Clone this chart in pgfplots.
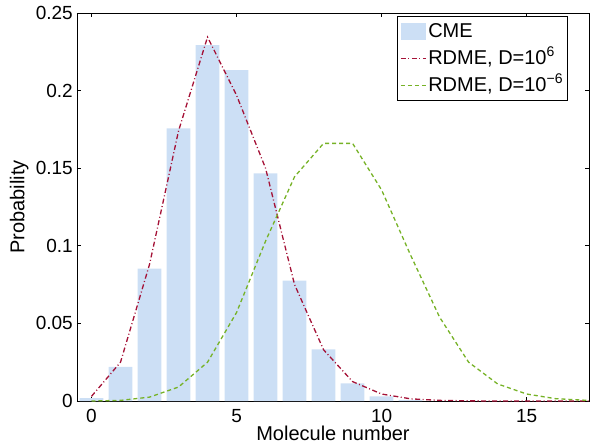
\documentclass[border=0pt]{standalone}
\usepackage{pgfplots}
\pgfplotsset{compat=1.18}
\usepackage{fontspec}
\setmainfont{Liberation Sans}

\definecolor{barblue}{RGB}{204,223,245}
\definecolor{rdmered}{RGB}{165,18,55}
\definecolor{rdmegreen}{RGB}{118,178,38}

\newcommand{\bigfont}{\fontsize{20}{24}\selectfont}
\newcommand{\tickfont}{\fontsize{19}{22}\selectfont}

\tikzset{
  redline/.style={rdmered, line width=1.3pt, dash pattern=on 5pt off 2.5pt on 1pt off 2.5pt},
  greenline/.style={rdmegreen, line width=1.3pt, dash pattern=on 4pt off 3pt},
}
\pgfplotsset{
  redleg/.style={legend image code/.code={\draw[redline, line width=1.6pt] (0pt,0pt) -- (25pt,0pt);}},
  greenleg/.style={legend image code/.code={\draw[greenline, line width=1.6pt] (0pt,0pt) -- (25pt,0pt);}},
  barleg/.style={legend image code/.code={\fill[barblue] (0pt,-8pt) rectangle (25pt,9pt);}},
}

\begin{document}
\begin{tikzpicture}
\path[use as bounding box] (-77pt,-44pt) rectangle (513pt,401pt);
\begin{axis}[
  at={(0pt,0pt)}, anchor=south west,
  scale only axis,
  width=512pt, height=388pt,
  xmin=-0.5, xmax=17.15,
  ymin=0, ymax=0.25,
  xtick={0,5,10,15},
  xticklabels={0,5,10,15},
  ytick={0,0.05,0.1,0.15,0.2,0.25},
  yticklabels={0,0.05,0.1,0.15,0.2,0.25},
  scaled y ticks=false,
  tick align=inside,
  major tick length=4pt,
  axis line style={line width=0.9pt},
  every tick/.style={black, line width=0.8pt},
  tick label style={font=\tickfont, inner sep=0pt},
  xticklabel style={yshift=-8.5pt},
  yticklabel style={xshift=-4pt},
  label style={font=\bigfont},
  xlabel={Molecule number},
  ylabel={Probability},
  xlabel style={at={(axis description cs:0.5,-0.103)}, anchor=base},
  ylabel style={at={(axis description cs:-0.113,0.5)}, anchor=center},
  legend style={at={(axis description cs:0.959,0.992)}, anchor=north east,
    draw=black, line width=0.8pt, font=\bigfont, inner xsep=3pt, inner ysep=4pt,
    row sep=5pt,
    nodes={inner sep=1.5pt, text height=15pt, text depth=4pt}},
  legend cell align=left,
  clip=true,
]

\addplot[ybar, bar width=0.82, fill=barblue, draw=none, barleg]
  coordinates {
  (0,0.0019) (1,0.022) (2,0.0853) (3,0.1757) (4,0.2293) (5,0.2132)
  (6,0.1466) (7,0.0775) (8,0.0332) (9,0.0114) (10,0.003) (11,0.0008)
};
\addlegendentry{CME}

\addplot[redline, redleg]
  coordinates {
  (0,0.003) (1,0.025) (2,0.088) (3,0.174) (4,0.2345) (5,0.197)
  (6,0.15) (7,0.075) (8,0.033) (9,0.0125) (10,0.0045) (11,0.0014)
  (12,0.0004) (13,0.0001) (14,0) (15,0) (16,0) (17,0) (18,0)
};
\addlegendentry{RDME, D=10\textsuperscript{6}}

\addplot[greenline, greenleg]
  coordinates {
  (0,0) (1,0.0004) (2,0.0025) (3,0.009) (4,0.025) (5,0.057)
  (6,0.103) (7,0.1445) (8,0.166) (9,0.166) (10,0.136) (11,0.094)
  (12,0.054) (13,0.025) (14,0.011) (15,0.0045) (16,0.0015) (17,0.0005)
  (18,0.0002)
};
\addlegendentry{RDME, D=10\textsuperscript{−6}}

\end{axis}
\end{tikzpicture}
\end{document}
